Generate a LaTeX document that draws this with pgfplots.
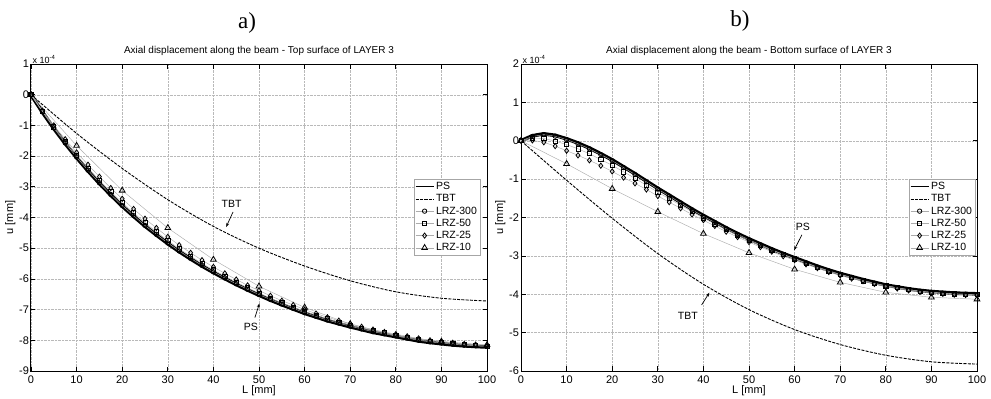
\documentclass[border=0pt]{standalone}
\usepackage{pgfplots}
\pgfplotsset{compat=1.18}
\usepackage{pgfplotstable}
\usepackage{fontspec}
\setmainfont{Liberation Sans}
\newfontfamily\seriffont{Liberation Serif}
\usetikzlibrary{arrows.meta}

% Top surface (a), values in 1e-4 mm
\pgfplotstableread{
x ps l300 l50 l25
0 0 0 0 0
2.5 -0.57 -0.55 -0.54 -0.52
5 -1.10 -1.08 -1.05 -1.00
7.5 -1.59 -1.57 -1.52 -1.45
10 -2.05 -2.03 -1.97 -1.88
12.5 -2.48 -2.46 -2.39 -2.28
15 -2.89 -2.87 -2.79 -2.67
17.5 -3.27 -3.25 -3.16 -3.04
20 -3.63 -3.61 -3.52 -3.39
22.5 -3.96 -3.94 -3.85 -3.72
25 -4.28 -4.26 -4.17 -4.04
27.5 -4.57 -4.55 -4.47 -4.34
30 -4.85 -4.83 -4.75 -4.63
32.5 -5.11 -5.09 -5.02 -4.90
35 -5.35 -5.33 -5.26 -5.15
37.5 -5.58 -5.56 -5.50 -5.39
40 -5.79 -5.77 -5.71 -5.61
42.5 -5.99 -5.97 -5.91 -5.82
45 -6.18 -6.16 -6.11 -6.02
47.5 -6.36 -6.34 -6.29 -6.21
50 -6.53 -6.51 -6.46 -6.38
52.5 -6.69 -6.67 -6.63 -6.55
55 -6.84 -6.82 -6.78 -6.71
57.5 -6.98 -6.96 -6.92 -6.85
60 -7.12 -7.10 -7.06 -7.00
62.5 -7.24 -7.22 -7.18 -7.13
65 -7.36 -7.34 -7.30 -7.25
67.5 -7.46 -7.44 -7.41 -7.36
70 -7.56 -7.54 -7.51 -7.46
72.5 -7.65 -7.63 -7.60 -7.56
75 -7.74 -7.72 -7.69 -7.65
77.5 -7.81 -7.79 -7.76 -7.73
80 -7.88 -7.86 -7.83 -7.80
82.5 -7.95 -7.93 -7.91 -7.87
85 -8.02 -8.00 -7.98 -7.94
87.5 -8.07 -8.05 -8.03 -8.00
90 -8.11 -8.09 -8.07 -8.04
92.5 -8.15 -8.13 -8.11 -8.08
95 -8.18 -8.16 -8.14 -8.12
97.5 -8.20 -8.18 -8.17 -8.14
100 -8.22 -8.20 -8.19 -8.16
}\topdata

\pgfplotstableread{
x tbt l10
0 0 0
10 -1.26 -1.66
20 -2.40 -3.12
30 -3.42 -4.34
40 -4.29 -5.37
50 -5.00 -6.24
60 -5.58 -6.93
70 -6.06 -7.47
80 -6.42 -7.85
90 -6.63 -8.04
100 -6.72 -8.15
}\topcoarse

% Bottom surface (b)
\pgfplotstableread{
x ps l300 l50 l25
0 0 0 0 0
2.5 0.13 0.11 0.07 0.01
5 0.18 0.16 0.06 -0.04
7.5 0.14 0.12 -0.01 -0.14
10 0.05 0.03 -0.10 -0.26
12.5 -0.06 -0.08 -0.21 -0.38
15 -0.19 -0.21 -0.34 -0.51
17.5 -0.34 -0.36 -0.49 -0.65
20 -0.50 -0.52 -0.64 -0.80
22.5 -0.68 -0.70 -0.81 -0.96
25 -0.86 -0.88 -0.98 -1.11
27.5 -1.05 -1.07 -1.16 -1.27
30 -1.24 -1.26 -1.34 -1.44
32.5 -1.42 -1.44 -1.51 -1.60
35 -1.60 -1.62 -1.68 -1.76
37.5 -1.78 -1.80 -1.85 -1.92
40 -1.95 -1.97 -2.01 -2.07
42.5 -2.11 -2.13 -2.17 -2.22
45 -2.27 -2.29 -2.32 -2.37
47.5 -2.42 -2.44 -2.47 -2.51
50 -2.56 -2.58 -2.60 -2.64
52.5 -2.69 -2.71 -2.73 -2.77
55 -2.82 -2.84 -2.85 -2.89
57.5 -2.94 -2.96 -2.97 -3.01
60 -3.05 -3.07 -3.08 -3.11
62.5 -3.16 -3.18 -3.19 -3.22
65 -3.27 -3.29 -3.30 -3.32
67.5 -3.37 -3.39 -3.40 -3.42
70 -3.46 -3.48 -3.49 -3.51
72.5 -3.54 -3.56 -3.57 -3.59
75 -3.62 -3.64 -3.65 -3.66
77.5 -3.69 -3.71 -3.72 -3.73
80 -3.76 -3.78 -3.78 -3.80
82.5 -3.81 -3.83 -3.83 -3.85
85 -3.86 -3.88 -3.88 -3.90
87.5 -3.90 -3.92 -3.92 -3.94
90 -3.93 -3.95 -3.95 -3.97
92.5 -3.95 -3.97 -3.97 -3.99
95 -3.97 -3.99 -3.99 -4.01
97.5 -3.98 -4.00 -4.00 -4.02
100 -3.99 -4.01 -4.01 -4.03
}\botdata

\pgfplotstableread{
x tbt l10
0 0 0
10 -1.03 -0.60
20 -2.02 -1.25
30 -2.94 -1.85
40 -3.74 -2.42
50 -4.40 -2.92
60 -4.92 -3.35
70 -5.31 -3.69
80 -5.59 -3.95
90 -5.76 -4.08
100 -5.82 -4.13
}\botcoarse

\pgfplotsset{
  myaxis/.style={
    scale only axis, width=456pt, height=307pt,
    xmin=0, xmax=100, xtick={0,10,...,100},
    grid=major,
    grid style={densely dotted, gray!55, line width=0.4pt},
    axis line style={black, line width=1pt},
    tick align=inside, major tick length=4.5pt,
    tick style={black, line width=0.7pt},
    xtick pos=both, ytick pos=both,
    xticklabel pos=lower, yticklabel pos=left,
    /pgf/number format/assume math mode=true,
    ticklabel style={font=\fontsize{11}{13}\selectfont},
    yticklabel style={xshift=1.5pt},
    xticklabel style={yshift=-1pt},
    label style={font=\fontsize{11}{13}\selectfont},
    xlabel={L [mm]}, ylabel={u [mm]},
    xlabel style={yshift=5pt},
    ylabel style={yshift=-3pt},
    title style={font=\fontsize{10}{12}\selectfont, yshift=-1pt},
    clip=false,
    legend cell align=left,
    legend style={font=\fontsize{10.5}{12.5}\selectfont, draw=gray!70,
      line width=0.5pt, inner sep=1pt, row sep=-0.6pt, anchor=north east},
    legend image code/.code={%
      \draw[mark repeat=2,mark phase=2] plot coordinates {(0pt,0pt) (9pt,0pt) (18pt,0pt)};},
  },
  psband/.style={black, line width=3.6pt, forget plot},
  psline/.style={black, line width=0.8pt},
  tbtline/.style={black, line width=0.9pt, dash pattern=on 3pt off 1.3pt, smooth},
  lrz/.style={gray!65, line width=0.45pt,
    mark options={draw=black, solid, line width=0.8pt, fill=none}},
}

\begin{document}
\begin{tikzpicture}
\path[use as bounding box] (0,0) rectangle (991pt,399pt);

\node[font=\seriffont\fontsize{23}{26}\selectfont] at (247pt,376pt) {a)};
\node[font=\seriffont\fontsize{23}{26}\selectfont] at (740pt,378pt) {b)};

% ---------- a) ----------
\begin{axis}[myaxis, at={(31pt,28pt)}, anchor=south west,
  ymin=-9, ymax=1, ytick={-9,-8,...,1},
  title={Axial displacement along the beam - Top surface of LAYER 3},
  legend style={at={(0.985,0.625)}}]
\addplot[psband] table[x=x,y=ps] {\topdata};
\addplot[psline] table[x=x,y=ps] {\topdata};
\addplot[tbtline] table[x=x,y=tbt] {\topcoarse};
\addplot[lrz, mark=o, mark size=2.2pt] table[x=x,y=l300] {\topdata};
\addplot[lrz, mark=square, mark size=2.1pt] table[x=x,y=l50] {\topdata};
\addplot[lrz, mark=diamond, mark size=2.6pt] table[x=x,y=l25] {\topdata};
\addplot[lrz, mark=triangle, mark size=3.3pt] table[x=x,y=l10] {\topcoarse};
\legend{PS,TBT,LRZ-300,LRZ-50,LRZ-25,LRZ-10}
\node[anchor=south west, inner sep=0pt, font=\fontsize{9}{10}\selectfont] at (rel axis cs:0,1) {\,x 10\textsuperscript{-4}};
\node[font=\fontsize{10.5}{12}\selectfont] at (axis cs:44,-3.57) {TBT};
\draw[-{Stealth[length=4pt,width=3pt]}, line width=0.7pt] (axis cs:44.3,-3.82) -- (axis cs:42.8,-4.31);
\node[font=\fontsize{10.5}{12}\selectfont] at (axis cs:48.2,-7.56) {PS};
\draw[-{Stealth[length=4pt,width=3pt]}, line width=0.7pt] (axis cs:49.1,-7.26) -- (axis cs:50.1,-6.80);
\end{axis}

% ---------- b) ----------
\begin{axis}[myaxis, at={(521pt,28pt)}, anchor=south west,
  ymin=-6, ymax=2, ytick={-6,-5,...,2},
  title={Axial displacement along the beam - Bottom surface of LAYER 3},
  legend style={at={(0.996,0.625)}}]
\addplot[psband] table[x=x,y=ps] {\botdata};
\addplot[psline] table[x=x,y=ps] {\botdata};
\addplot[tbtline] table[x=x,y=tbt] {\botcoarse};
\addplot[lrz, mark=o, mark size=2.2pt] table[x=x,y=l300] {\botdata};
\addplot[lrz, mark=square, mark size=2.1pt] table[x=x,y=l50] {\botdata};
\addplot[lrz, mark=diamond, mark size=2.6pt] table[x=x,y=l25] {\botdata};
\addplot[lrz, mark=triangle, mark size=3.3pt] table[x=x,y=l10] {\botcoarse};
\legend{PS,TBT,LRZ-300,LRZ-50,LRZ-25,LRZ-10}
\node[anchor=south west, inner sep=0pt, font=\fontsize{9}{10}\selectfont] at (rel axis cs:0,1) {\,x 10\textsuperscript{-4}};
\node[font=\fontsize{10.5}{12}\selectfont] at (axis cs:61.8,-2.25) {PS};
\draw[-{Stealth[length=4pt,width=3pt]}, line width=0.7pt] (axis cs:61.6,-2.45) -- (axis cs:59.9,-2.85);
\node[font=\fontsize{10.5}{12}\selectfont] at (axis cs:36.6,-4.56) {TBT};
\draw[-{Stealth[length=4pt,width=3pt]}, line width=0.7pt] (axis cs:39.6,-4.28) -- (axis cs:41.3,-3.96);
\end{axis}
\end{tikzpicture}
\end{document}
